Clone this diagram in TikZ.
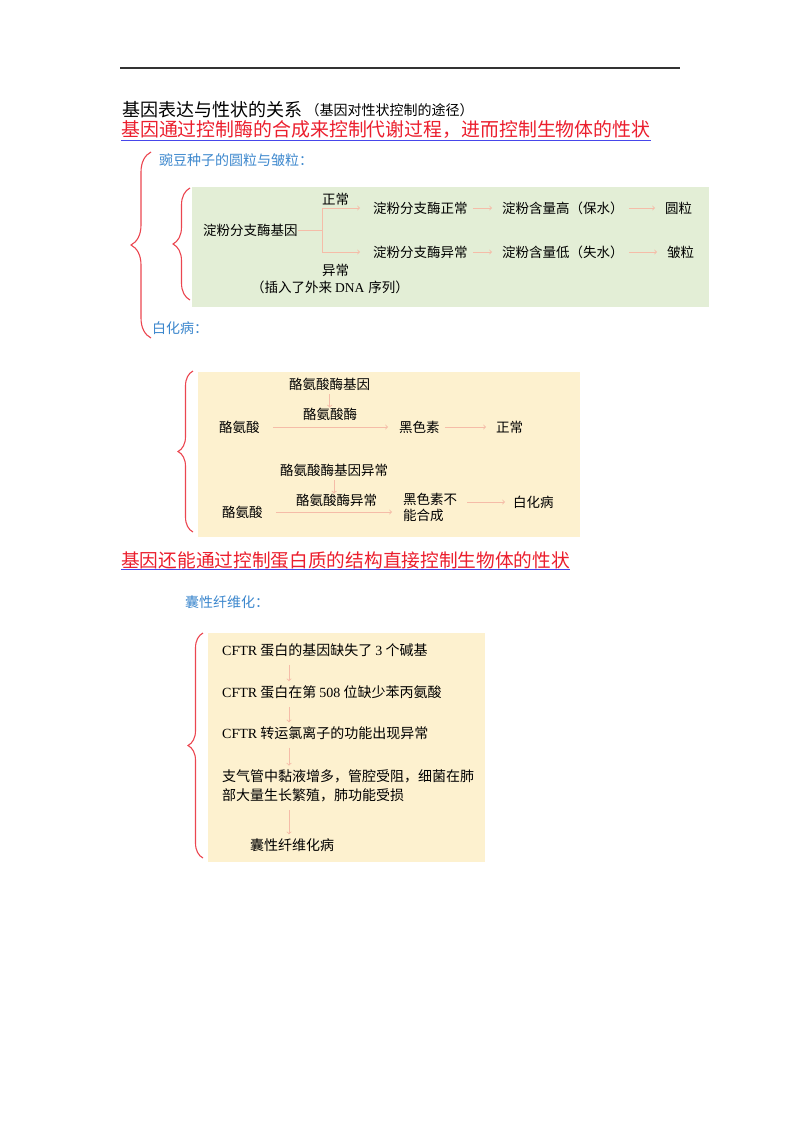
\documentclass[tikz,border=0pt]{standalone}
\usepackage{fontspec}
\setmainfont{Noto Sans CJK SC}
\newfontfamily\latinserif{Liberation Serif}
\newcommand{\latn}[1]{{\latinserif #1}}
\usetikzlibrary{positioning,decorations.pathreplacing}
\definecolor{headred}{RGB}{235,30,45}
\definecolor{lineblue}{RGB}{70,70,235}
\definecolor{labblue}{RGB}{60,135,205}
\definecolor{boxgreen}{RGB}{227,238,214}
\definecolor{boxyellow}{RGB}{253,241,207}
\definecolor{arrowpink}{RGB}{245,188,168}
\definecolor{bracered}{RGB}{235,70,80}

\begin{document}
\begin{tikzpicture}[x=1pt,y=-1pt,
	every node/.style={inner sep=0pt,
    					anchor=west,
                        font=\fontsize{13.5}{16}\selectfont
                        },
	head/.style={font=\fontsize{#1}{22}\selectfont, text=headred},
	lbl/.style={font=\fontsize{14}{16}\selectfont, text=labblue},
	cf/.style={font=\fontsize{14}{19}\selectfont},
	flow/.style={->, draw=arrowpink, line width=0.9pt},
	link/.style={flow, shorten <=5pt, shorten >=10pt},
	vlink/.style={flow, shorten <=8pt, shorten >=4pt},
	brc/.style={draw=bracered, line width=1.1pt, decorate,
    			decoration={brace, amplitude=#1}
    }
]
	\useasboundingbox (0,0) rectangle (800,1132);
    % panels
	\fill[boxgreen] (192,187) rectangle (709,307);
	\fill[boxyellow] (198,372) rectangle (580,537);
	\fill[boxyellow] (208,633) rectangle (485,862);
	\draw[line width=1.8pt, black!80] (120,68) -- (680,68);

	% titles
	\node (title) at (122,110) {\fontsize{18}{22}\selectfont 基因表达与性状的关系};
    \node (titlenote) [right=3pt of title] {\fontsize{14}{16}\selectfont （基因对性状控制的途径）};
	\node (head1) [head=18.9] at (121,130) {基因通过控制酶的合成来控制代谢过程，进而控制生物体的性状};
    \draw[lineblue, line width=1pt] ([yshift=-1pt]head1.south west) -- ([yshift=-1pt]head1.south east);
	\node (pea) [lbl] at (159,160) {豌豆种子的圆粒与皱粒：};
	\node (albinism) [lbl] at (152,328) {白化病：};

	% pea seeds
	\node (gene) at (203,230) {淀粉分支酶基因};
    \node (ok) at (322,199) {正常};
    \node (bad) at (322,270) {异常};
    \node (insert) at (251,287) {（插入了外来\hspace{3pt}\latn{DNA}\hspace{4pt}序列）};
	\node (enzok) at (373,208) {淀粉分支酶正常};
	\node (starchhi) at (502,208) {淀粉含量高（保水）};
	\node (round) at (665,208) {圆粒};
	\node (enzbad) at (373,252) {淀粉分支酶异常};
	\node (starchlo) at (502,252) {淀粉含量低（失水）};
	\node (wrinkled) at (667,252) {皱粒};
    \draw[flow, shorten >=13pt] (gene.east) -- ++(25,0) |- (enzok.west);
    \draw[flow, shorten >=13pt] (gene.east) -- ++(25,0) |- (enzbad.west);
    \draw[link] (enzok) -- (starchhi);
    \draw[link] (starchhi) -- (round);
    \draw[link] (enzbad) -- (starchlo);
    \draw[link] (starchlo) -- (wrinkled);
	\draw[brc=20pt] (151,338) -- (151,152);
	\draw[brc=17pt] (190,300) -- (190,188);

	% albinism
	\node (tyrgene) at (289,384) {酪氨酸酶基因};
	\node (tyrenz) at (303,414) {酪氨酸酶};
	\node (tyr) at (219,427) {酪氨酸};
	\node (mel) at (399,427) {黑色素};
	\node (normal) at (496,427) {正常};
    \draw[flow, shorten <=4pt] (tyrgene.south) -- (tyrgene.south |- tyrenz.north);
    \draw[flow, shorten <=13pt, shorten >=11pt] (tyr) -- (tyr -| mel.west);
    \draw[link] (mel) -- (normal);
	\node (tyrgenebad) at (280,470) {酪氨酸酶基因异常};
	\node (tyrenzbad) at (296,500) {酪氨酸酶异常};
	\node (tyr2) at (222,512) {酪氨酸};
	\node (nomel) [align=left] at (403,507) {黑色素不\\能合成};
	\node (albino) at (513,502) {白化病};
    \draw[flow, shorten <=4pt] (tyrgenebad.south) -- (tyrgenebad.south |- tyrenzbad.north);
    \draw[flow, shorten <=13pt, shorten >=11pt] (tyr2) -- (tyr2 -| nomel.west);
    \draw[flow, shorten <=10pt, shorten >=8pt] (nomel.east |- albino) -- (albino);
	\draw[brc=15pt] (193,532) -- (193,371);

	% cystic fibrosis
	\node (head2) [head=18.7] at (121,560) {基因还能通过控制蛋白质的结构直接控制生物体的性状};
    \draw[lineblue, line width=1pt] ([yshift=-1pt]head2.south west) -- ([yshift=-1pt]head2.south east);
	\node (cfl) [lbl] at (185,602) {囊性纤维化：};
	\coordinate (ax) at (289,0);
	\node (cf1) [cf] at (222,650) {\latn{CFTR} 蛋白的基因缺失了 \latn{3} 个碱基};
	\node (cf2) [cf] at (222,692) {\latn{CFTR} 蛋白在第 \latn{508} 位缺少苯丙氨酸};
	\node (cf3) [cf] at (222,733) {\latn{CFTR} 转运氯离子的功能出现异常};
	\node (cf4) [cf, align=left] at (222,786) {支气管中黏液增多，管腔受阻，细菌在肺\\部大量生长繁殖，肺功能受损};
	\node (cf5) [cf] at (250,845) {囊性纤维化病};
    \draw[vlink] (cf1.south -| ax) -- (cf2.north -| ax);
    \draw[vlink] (cf2.south -| ax) -- (cf3.north -| ax);
    \draw[vlink] (cf3.south -| ax) -- (cf4.north -| ax);
    \draw[vlink] (cf4.south -| ax) -- (cf5.north -| ax);
	\draw[brc=15pt] (203,858) -- (203,633);
\end{tikzpicture}
\end{document}
